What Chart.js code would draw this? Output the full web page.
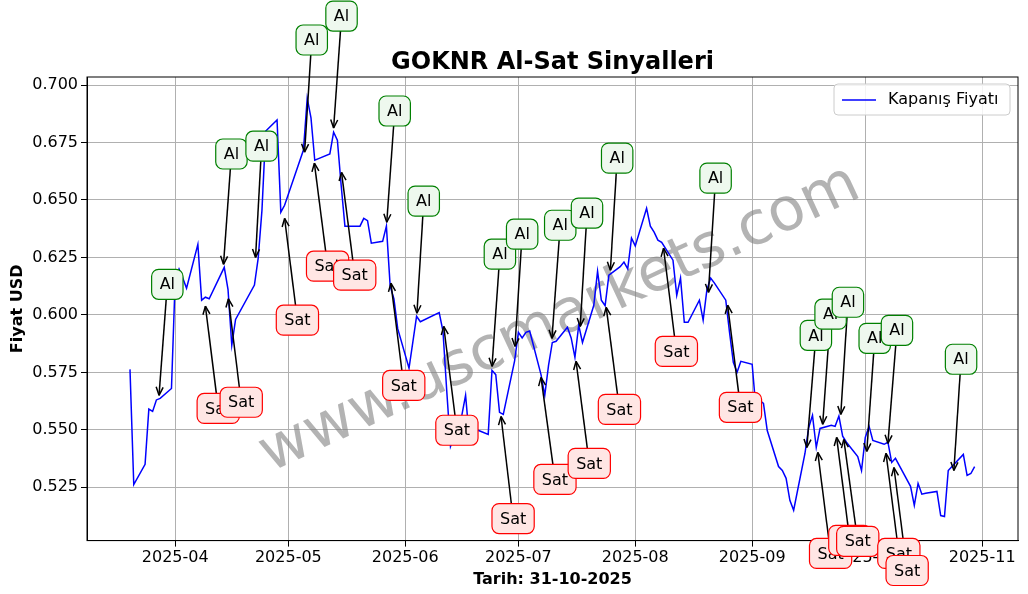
<!DOCTYPE html>
<html><head><meta charset="utf-8">
<script src="https://cdn.jsdelivr.net/npm/chart.js@4"></script>
<style>html,body{margin:0;background:#fff}#w{width:1028px;height:594px}</style>
</head><body><div id="w"><canvas id="c"></canvas></div>
<script>
const dates=["2025-03-20","2025-03-21","2025-03-24","2025-03-25","2025-03-26","2025-03-27","2025-03-28","2025-03-31","2025-04-01","2025-04-02","2025-04-03","2025-04-04","2025-04-07","2025-04-08","2025-04-09","2025-04-10","2025-04-14","2025-04-15","2025-04-16","2025-04-17","2025-04-22","2025-04-23","2025-04-24","2025-04-25","2025-04-28","2025-04-29","2025-04-30","2025-05-05","2025-05-06","2025-05-07","2025-05-08","2025-05-09","2025-05-12","2025-05-13","2025-05-14","2025-05-15","2025-05-16","2025-05-19","2025-05-20","2025-05-21","2025-05-22","2025-05-23","2025-05-26","2025-05-27","2025-05-28","2025-05-29","2025-05-30","2025-06-02","2025-06-03","2025-06-04","2025-06-05","2025-06-10","2025-06-11","2025-06-12","2025-06-13","2025-06-16","2025-06-17","2025-06-18","2025-06-19","2025-06-20","2025-06-23","2025-06-24","2025-06-25","2025-06-26","2025-06-27","2025-06-30","2025-07-01","2025-07-02","2025-07-03","2025-07-04","2025-07-07","2025-07-08","2025-07-09","2025-07-10","2025-07-11","2025-07-14","2025-07-15","2025-07-16","2025-07-17","2025-07-18","2025-07-21","2025-07-22","2025-07-23","2025-07-24","2025-07-25","2025-07-28","2025-07-29","2025-07-30","2025-07-31","2025-08-01","2025-08-04","2025-08-05","2025-08-06","2025-08-07","2025-08-08","2025-08-11","2025-08-12","2025-08-13","2025-08-14","2025-08-15","2025-08-18","2025-08-19","2025-08-20","2025-08-21","2025-08-22","2025-08-25","2025-08-26","2025-08-27","2025-08-28","2025-08-29","2025-09-01","2025-09-02","2025-09-03","2025-09-04","2025-09-05","2025-09-08","2025-09-09","2025-09-10","2025-09-11","2025-09-12","2025-09-15","2025-09-16","2025-09-17","2025-09-18","2025-09-19","2025-09-22","2025-09-23","2025-09-24","2025-09-25","2025-09-26","2025-09-29","2025-09-30","2025-10-01","2025-10-02","2025-10-03","2025-10-06","2025-10-07","2025-10-08","2025-10-09","2025-10-10","2025-10-13","2025-10-14","2025-10-15","2025-10-16","2025-10-17","2025-10-20","2025-10-21","2025-10-22","2025-10-23","2025-10-24","2025-10-27","2025-10-28","2025-10-29","2025-10-30"];
const prices=[0.5763,0.5262,0.535,0.559,0.558,0.563,0.5637,0.568,0.616,0.620,0.616,0.6116,0.6307,0.6064,0.6077,0.607,0.6207,0.611,0.5868,0.598,0.613,0.6247,0.6456,0.680,0.6848,0.6447,0.6477,0.6717,0.6943,0.6857,0.6673,0.668,0.670,0.6795,0.676,0.6564,0.6386,0.6386,0.6386,0.642,0.641,0.6312,0.632,0.6386,0.6125,0.607,0.594,0.5768,0.588,0.5994,0.597,0.601,0.593,0.567,0.5428,0.5563,0.565,0.5463,0.552,0.550,0.548,0.5759,0.574,0.5576,0.5567,0.580,0.5924,0.590,0.5924,0.593,0.574,0.565,0.578,0.588,0.5885,0.5946,0.590,0.5815,0.5955,0.588,0.6042,0.619,0.6064,0.604,0.6173,0.621,0.623,0.620,0.6334,0.630,0.6464,0.6386,0.636,0.6325,0.6316,0.6238,0.6085,0.616,0.5968,0.5968,0.6064,0.5977,0.611,0.616,0.6138,0.6064,0.5924,0.5794,0.575,0.5798,0.5785,0.559,0.5628,0.5615,0.5497,0.534,0.5323,0.5289,0.5193,0.515,0.5397,0.551,0.5563,0.5423,0.5506,0.552,0.5515,0.556,0.5472,0.5446,0.5384,0.5323,0.5467,0.5515,0.5454,0.5437,0.5446,0.5358,0.5376,0.5345,0.5254,0.5171,0.5267,0.522,0.5224,0.5232,0.5127,0.5123,0.5323,0.534,0.5393,0.5302,0.531,0.534];
// signals: day-of-year positions
const sigTypes=["Al","Sat","Al","Sat","Al","Sat","Al","Sat","Al","Sat","Al","Sat","Al","Sat","Al","Sat","Al","Sat","Al","Sat","Al","Sat","Al","Sat","Al","Sat","Al","Sat","Al","Sat","Al","Sat","Al","Sat","Al","Sat","Al"];
const sigDay=[85.7,98.0,102.8,104.1,111.3,119.0,124.3,126.9,132.0,134.1,146.1,147.2,154.1,161.2,174.0,176.4,180.1,187.0,189.9,196.3,197.4,204.3,205.4,219.5,231.4,236.5,257.5,260.4,261.7,265.4,266.5,267.3,273.4,278.5,279.0,280.6,296.5];
const sigPrice=[0.565,0.6038,0.622,0.607,0.625,0.642,0.6708,0.666,0.6813,0.662,0.6403,0.6138,0.6007,0.595,0.5776,0.5558,0.5863,0.5728,0.5898,0.5798,0.595,0.6033,0.6194,0.629,0.6098,0.6042,0.5423,0.5402,0.5524,0.5467,0.5567,0.5458,0.5406,0.5398,0.5441,0.5336,0.5323];
const lblDay=[87.9,101.4,104.9,107.5,112.9,122.4,126.2,130.4,134.1,137.6,148.2,150.6,155.9,164.7,176.1,179.6,182.0,190.7,192.1,199.8,199.2,207.8,207.2,222.9,233.3,239.9,259.9,263.8,263.8,268.9,268.4,271.0,275.5,281.9,281.4,284.1,298.4];
const lblPrice=[0.6133,0.5593,0.670,0.562,0.6734,0.5977,0.7196,0.6212,0.730,0.6173,0.6887,0.5693,0.6495,0.5498,0.6264,0.5114,0.6351,0.5284,0.639,0.5354,0.6443,0.5589,0.6682,0.5841,0.6595,0.5598,0.5911,0.4962,0.6003,0.5019,0.6055,0.5015,0.5898,0.4962,0.5933,0.4888,0.5807];
const monthTicks=[90,120,151,181,212,243,273,304];
const monthLabels=["2025-04","2025-05","2025-06","2025-07","2025-08","2025-09","2025-10","2025-11"];
const titleText="GOKNR Al-Sat Sinyalleri";
const doy=s=>(Date.UTC(+s.slice(0,4),+s.slice(5,7)-1,+s.slice(8,10))-Date.UTC(2025,0,1))/864e5;
const pts=dates.map((d,i)=>({x:doy(d),y:prices[i]}));
const F="'DejaVu Sans'";
const deco={id:'deco',
 beforeDatasetsDraw(ch){const c=ch.ctx,a=ch.chartArea;c.save();c.beginPath();c.rect(a.left,a.top,a.right-a.left,a.bottom-a.top);c.clip();
  c.translate(560,320);c.rotate(-25*Math.PI/180);c.font="60px "+F;c.fillStyle="rgba(128,128,128,0.6)";c.textAlign="center";c.textBaseline="middle";c.fillText("www.uscmarkets.com",0,0);c.restore();},
 afterDatasetsDraw(ch){const c=ch.ctx,xs=ch.scales.x,ys=ch.scales.y,a=ch.chartArea;c.save();
  c.strokeStyle="#000";c.lineWidth=1;c.strokeRect(a.left,a.top,a.right-a.left,a.bottom-a.top);
  c.font="bold 24px "+F;c.textAlign="center";c.textBaseline="alphabetic";c.fillStyle="#000";c.fillText(titleText,(a.left+a.right)/2,a.top-8);
  c.font="16px "+F;c.textAlign="center";c.textBaseline="middle";
  for(let i=0;i<sigTypes.length;i++){const tx=xs.getPixelForValue(sigDay[i]),ty=ys.getPixelForValue(sigPrice[i]),lx=xs.getPixelForValue(lblDay[i]),ly=ys.getPixelForValue(lblPrice[i]);
   c.strokeStyle="#000";c.lineWidth=1.5;c.beginPath();c.moveTo(lx,ly);c.lineTo(tx,ty);c.stroke();
   const ang=Math.atan2(ty-ly,tx-lx);c.beginPath();c.moveTo(tx,ty);c.lineTo(tx-9*Math.cos(ang-0.4),ty-9*Math.sin(ang-0.4));c.moveTo(tx,ty);c.lineTo(tx-9*Math.cos(ang+0.4),ty-9*Math.sin(ang+0.4));c.stroke();}
  for(let i=0;i<sigTypes.length;i++){const al=sigTypes[i]==="Al",lx=xs.getPixelForValue(lblDay[i]),ly=ys.getPixelForValue(lblPrice[i]);
   const w=c.measureText(sigTypes[i]).width+16,h=30;c.beginPath();c.roundRect(lx-w/2,ly-h/2,w,h,7);
   c.fillStyle=al?"#eef8ee":"#ffe6e4";c.fill();c.strokeStyle=al?"green":"red";c.lineWidth=1.2;c.stroke();c.fillStyle="#000";c.fillText(sigTypes[i],lx,ly+1);}
  c.font="16px "+F;c.textAlign="left";c.beginPath();c.roundRect(834,84,176,31,4);c.fillStyle="rgba(255,255,255,0.85)";c.fill();c.strokeStyle="#ccc";c.lineWidth=1;c.stroke();
  c.strokeStyle="blue";c.lineWidth=1.5;c.beginPath();c.moveTo(842,100);c.lineTo(876,100);c.stroke();c.fillStyle="#000";c.fillText("Kapanış Fiyatı",888,100);
  c.restore();}};
new Chart(document.getElementById('c'),{type:'line',
 data:{datasets:[{data:pts,borderColor:'blue',borderWidth:1.5,pointRadius:0,tension:0}]},
 options:{animation:false,responsive:true,maintainAspectRatio:false,
  layout:{padding:{left:4,right:10,top:77,bottom:5}},
  plugins:{legend:{display:false},tooltip:{enabled:false},title:{display:false}},
  scales:{
   x:{type:'linear',min:66.6,max:313.5,afterBuildTicks:s=>{s.ticks=monthTicks.map(v=>({value:v}));},
    ticks:{callback:(v)=>monthLabels[monthTicks.indexOf(v)],color:'#000',font:{family:F,size:16},maxRotation:0,autoSkip:false,padding:2},
    grid:{color:'#b0b0b0',tickLength:6,tickColor:'#000'},border:{color:'#000'},
    title:{display:true,text:"Tarih: 31-10-2025",color:'#000',font:{family:F,size:16,weight:'bold'},padding:{top:0,bottom:0}}},
   y:{min:0.5018,max:0.7035,afterBuildTicks:s=>{s.ticks=[0.525,0.55,0.575,0.6,0.625,0.65,0.675,0.7].map(v=>({value:v}));},
    ticks:{callback:v=>v.toFixed(3),color:'#000',font:{family:F,size:16},padding:3},
    grid:{color:'#b0b0b0',tickLength:6,tickColor:'#000'},border:{color:'#000'},
    title:{display:true,text:"Fiyat USD",color:'#000',font:{family:F,size:16,weight:'bold'},padding:{bottom:2}}}}},
 plugins:[deco]});
</script></body></html>
